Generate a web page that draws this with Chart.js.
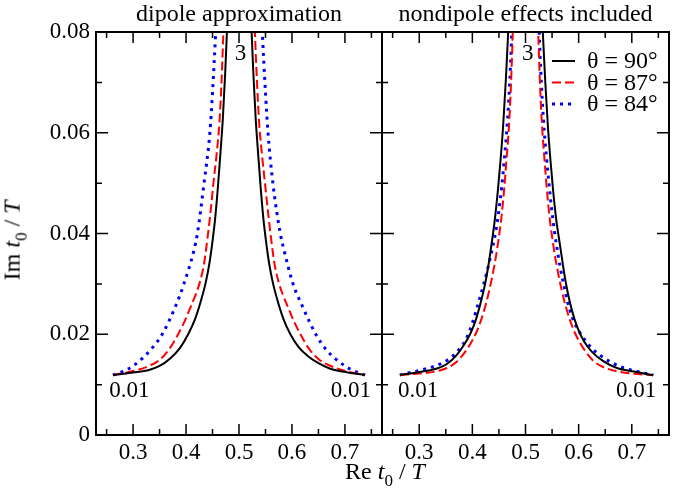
<!DOCTYPE html>
<html>
<head>
<meta charset="utf-8">
<script src="https://cdn.jsdelivr.net/npm/chart.js@4.4.1/dist/chart.umd.min.js"></script>
<style>
  body { margin: 0; background: #fff; }
  #wrap { position: relative; width: 687px; height: 491px; font-family: 'Liberation Serif', serif; color: #000; }
  canvas { position: absolute; left: 0; top: 0; }
  .axtitle { position: absolute; font-size: 24px; line-height: 24px; text-align: center; white-space: nowrap; width: 200px; }
  .axtitle sub { font-size: 17px; position: relative; top: 1px; }
  #xtitle { left: 285px; top: 459px; }
  #ytitle { left: -84px; top: 224px; transform: rotate(-90deg); }
</style>
</head>
<body>
<div id="wrap">
  <canvas id="dipole" width="687" height="491"></canvas>
  <canvas id="nondipole" width="687" height="491"></canvas>
  <div class="axtitle" id="xtitle">Re <i>t</i><sub>0</sub> / <i>T</i></div>
  <div class="axtitle" id="ytitle">Im <i>t</i><sub>0</sub> / <i>T</i></div>
</div>
<script>
const xTicks = [0.3, 0.4, 0.5, 0.6, 0.7];
const xMinorTicks = [0.25, 0.35, 0.45, 0.55, 0.65, 0.75];
const yTicks = [0, 0.02, 0.04, 0.06, 0.08];
const yTickLabels = ['0', '0.02', '0.04', '0.06', '0.08'];
const yMinorTicks = [0.01, 0.03, 0.05, 0.07];
const angleLabels = ['θ = 90°', 'θ = 87°', 'θ = 84°'];
const panelTitles = ['dipole approximation', 'nondipole effects included'];

// each curve: left branch, null, right branch
const dip90X = [0.262, 0.30, 0.33, 0.35, 0.37, 0.388, 0.404, 0.417, 0.428, 0.437, 0.444, 0.450, 0.455, 0.460, 0.465, 0.4696, 0.474, 0.478, 0.480, null,
                0.521, 0.523, 0.527, 0.5314, 0.536, 0.541, 0.546, 0.551, 0.557, 0.564, 0.573, 0.584, 0.597, 0.613, 0.631, 0.651, 0.671, 0.701, 0.738];
const dip90Y = [0.0119, 0.0124, 0.0129, 0.0137, 0.0152, 0.0172, 0.0200, 0.0230, 0.0266, 0.0302, 0.0340, 0.0385, 0.0430, 0.0490, 0.0560, 0.0630, 0.0720, 0.0820, 0.088, null,
                0.088, 0.0820, 0.0720, 0.0630, 0.0560, 0.0490, 0.0430, 0.0385, 0.0340, 0.0302, 0.0266, 0.0230, 0.0200, 0.0174, 0.0156, 0.0142, 0.0132, 0.0125, 0.0119];
const dip87X = [0.262, 0.30, 0.33, 0.35, 0.368, 0.384, 0.397, 0.409, 0.418, 0.426, 0.434, 0.441, 0.447, 0.4517, 0.457, 0.463, 0.467, 0.4705, 0.4725, null,
                0.528, 0.530, 0.534, 0.538, 0.544, 0.549, 0.554, 0.560, 0.567, 0.575, 0.583, 0.592, 0.604, 0.617, 0.633, 0.651, 0.671, 0.701, 0.738];
const dip87Y = [0.0119, 0.0127, 0.0137, 0.0149, 0.0170, 0.0198, 0.0225, 0.0255, 0.0278, 0.0303, 0.0340, 0.0395, 0.0450, 0.0500, 0.0550, 0.0620, 0.0700, 0.0800, 0.086, null,
                0.086, 0.0800, 0.0700, 0.0620, 0.0550, 0.0500, 0.0450, 0.0395, 0.0340, 0.0303, 0.0278, 0.0255, 0.0225, 0.0198, 0.0170, 0.0150, 0.0138, 0.0127, 0.0119];
const dip84X = [0.262, 0.28, 0.30, 0.333, 0.355, 0.380, 0.396, 0.415, 0.4215, 0.434, 0.445, 0.450, 0.456, 0.459, null,
                0.541, 0.544, 0.550, 0.5548, 0.564, 0.578, 0.585, 0.602, 0.620, 0.645, 0.665, 0.70, 0.72, 0.738];
const dip84Y = [0.0119, 0.0126, 0.0137, 0.0169, 0.020, 0.0255, 0.030, 0.0367, 0.040, 0.050, 0.060, 0.068, 0.080, 0.087, null,
                0.087, 0.080, 0.068, 0.060, 0.050, 0.040, 0.0367, 0.030, 0.0255, 0.020, 0.0169, 0.0137, 0.0126, 0.0119];

const non90X = [0.2636, 0.30, 0.33, 0.352, 0.37, 0.385, 0.397, 0.407, 0.415, 0.423, 0.430, 0.436, 0.442, 0.448, 0.453, 0.458, 0.463, 0.467, 0.470, null,
                0.530, 0.533, 0.537, 0.542, 0.547, 0.552, 0.5575, 0.5623, 0.567, 0.573, 0.580, 0.588, 0.597, 0.61, 0.625, 0.647, 0.672, 0.7038, 0.7403];
const non90Y = [0.0119, 0.0125, 0.0131, 0.0141, 0.0158, 0.0180, 0.0203, 0.0230, 0.0260, 0.0295, 0.0335, 0.0378, 0.0425, 0.0485, 0.0545, 0.0615, 0.0705, 0.0790, 0.087, null,
                0.087, 0.0790, 0.0705, 0.0615, 0.0545, 0.0485, 0.0430, 0.0395, 0.0362, 0.0320, 0.0280, 0.0245, 0.0215, 0.0186, 0.0165, 0.0146, 0.0133, 0.0126, 0.0119];
const non87X = [0.2636, 0.30, 0.33, 0.352, 0.37, 0.385, 0.397, 0.408, 0.417, 0.425, 0.432, 0.438, 0.444, 0.4495, 0.455, 0.460, 0.4645, 0.4687, 0.4725, 0.4755, 0.478, null,
                0.522, 0.5245, 0.5275, 0.5313, 0.5355, 0.540, 0.545, 0.5505, 0.556, 0.562, 0.568, 0.575, 0.583, 0.592, 0.603, 0.615, 0.630, 0.648, 0.67, 0.70, 0.7403];
const non87Y = [0.0119, 0.0122, 0.0126, 0.0133, 0.0145, 0.0163, 0.0182, 0.0205, 0.0230, 0.0258, 0.0288, 0.0318, 0.0352, 0.0390, 0.0435, 0.0490, 0.0550, 0.0610, 0.0690, 0.0780, 0.087, null,
                0.087, 0.0780, 0.0690, 0.0610, 0.0550, 0.0490, 0.0435, 0.0390, 0.0352, 0.0318, 0.0288, 0.0258, 0.0230, 0.0205, 0.0182, 0.0163, 0.0145, 0.0134, 0.0127, 0.0122, 0.0119];
const non84X = [0.2636, 0.28, 0.30, 0.33, 0.352, 0.372, 0.389, 0.400, 0.4113, 0.421, 0.430, 0.438, 0.445, 0.4505, 0.4555, 0.460, 0.4645, 0.4685, 0.472, 0.475, 0.477, null,
                0.523, 0.525, 0.528, 0.5315, 0.5355, 0.540, 0.5445, 0.549, 0.5538, 0.559, 0.565, 0.5715, 0.579, 0.5875, 0.597, 0.6094, 0.625, 0.642, 0.66, 0.685, 0.71, 0.7403];
const non84Y = [0.0119, 0.0123, 0.0128, 0.0137, 0.0148, 0.0166, 0.0192, 0.0222, 0.0262, 0.0298, 0.0335, 0.0372, 0.0410, 0.0450, 0.0495, 0.0545, 0.0600, 0.0665, 0.0740, 0.0820, 0.088, null,
                0.088, 0.0820, 0.0740, 0.0665, 0.0600, 0.0545, 0.0495, 0.0450, 0.0410, 0.0372, 0.0335, 0.0300, 0.0265, 0.0235, 0.0213, 0.0192, 0.0172, 0.0157, 0.0145, 0.0133, 0.0126, 0.0119];

// parameter labels written along the curves
const noteTexts = ['3', '0.01', '0.01'];
const dipNoteX = [0.503, 0.293, 0.711];
const dipNoteY = [0.0757, 0.0087, 0.0087];
const nonNoteX = [0.504, 0.298, 0.708];
const nonNoteY = [0.0757, 0.0087, 0.0087];

const FONT = "'Liberation Serif', serif";

function pts(xs, ys) {
    return xs.map((x, i) => x === null ? {x: null, y: null} : {x: x, y: ys[i]});
}

function curves(sets) {
    const styles = [
        {borderColor: '#000000', borderWidth: 2, borderDash: []},
        {borderColor: '#ff0000', borderWidth: 2, borderDash: [9, 4]},
        {borderColor: '#0000ff', borderWidth: 3, borderDash: [3, 5]}
    ];
    return sets.map((s, i) => Object.assign({
        label: angleLabels[i],
        data: pts(s[0], s[1]),
        showLine: true,
        pointRadius: 0,
        fill: false,
        spanGaps: false,
        cubicInterpolationMode: 'monotone',
        clip: 0
    }, styles[i]));
}

const panelDecor = {
    id: 'panelDecor',
    afterDraw(chart, args, opts) {
        const ctx = chart.ctx;
        const a = chart.chartArea;
        const x = chart.scales.x, y = chart.scales.y;
        ctx.save();
        ctx.strokeStyle = '#000';
        ctx.lineWidth = 1.5;
        ctx.beginPath();
        const xt = (v, len) => {
            const p = x.getPixelForValue(v);
            ctx.moveTo(p, a.bottom); ctx.lineTo(p, a.bottom - len);
            ctx.moveTo(p, a.top); ctx.lineTo(p, a.top + len);
        };
        const yt = (v, len) => {
            const p = y.getPixelForValue(v);
            ctx.moveTo(a.left, p); ctx.lineTo(a.left + len, p);
            ctx.moveTo(a.right, p); ctx.lineTo(a.right - len, p);
        };
        xTicks.forEach(v => xt(v, 11));
        xMinorTicks.forEach(v => xt(v, 6));
        yTicks.forEach(v => yt(v, 12));
        yMinorTicks.forEach(v => yt(v, 6));
        ctx.stroke();
        ctx.lineWidth = 2;
        ctx.strokeRect(a.left, a.top, a.right - a.left, a.bottom - a.top);

        ctx.fillStyle = '#000';
        ctx.textAlign = 'center';
        ctx.textBaseline = 'alphabetic';
        ctx.font = '24px ' + FONT;
        ctx.fillText(opts.title, (a.left + a.right) / 2, 21);

        ctx.textBaseline = 'middle';
        ctx.font = '23px ' + FONT;
        opts.notes.forEach((t, i) => {
            ctx.fillText(t, x.getPixelForValue(opts.noteX[i]), y.getPixelForValue(opts.noteY[i]));
        });

        if (opts.legend) {
            ctx.font = '24px ' + FONT;
            ctx.textAlign = 'left';
            chart.data.datasets.forEach((ds, i) => {
                const ly = a.top + 29 + i * 21.5;
                ctx.strokeStyle = ds.borderColor;
                ctx.lineWidth = ds.borderWidth;
                ctx.setLineDash(ds.borderDash);
                ctx.beginPath();
                ctx.moveTo(a.right - 117, ly);
                ctx.lineTo(a.right - 94, ly);
                ctx.stroke();
                ctx.setLineDash([]);
                ctx.fillText(ds.label, a.right - 82, ly + 1);
            });
        }
        ctx.restore();
    }
};

function makeChart(id, sets, padding, showY, decor) {
    return new Chart(document.getElementById(id).getContext('2d'), {
        type: 'scatter',
        data: {datasets: curves(sets)},
        options: {
            responsive: false,
            animation: false,
            layout: {padding: padding},
            plugins: {legend: {display: false}, tooltip: {enabled: false}, panelDecor: decor},
            scales: {
                x: {
                    type: 'linear', min: 0.23, max: 0.77,
                    grid: {display: false, drawTicks: false},
                    border: {display: false},
                    afterBuildTicks: s => { s.ticks = xTicks.map(v => ({value: v})); },
                    afterFit: s => { s.height = 56; },
                    ticks: {
                        padding: 4, color: '#000', maxRotation: 0, autoSkip: false,
                        font: {family: FONT, size: 23},
                        callback: v => v.toFixed(1)
                    }
                },
                y: {
                    type: 'linear', min: 0, max: 0.08, display: showY,
                    grid: {display: false, drawTicks: false},
                    border: {display: false},
                    afterBuildTicks: s => { s.ticks = yTicks.map(v => ({value: v})); },
                    afterFit: s => { s.width = showY ? 96 : 0; },
                    ticks: {
                        padding: 6, color: '#000', autoSkip: false,
                        font: {family: FONT, size: 23},
                        callback: (v, i) => yTickLabels[i]
                    }
                }
            }
        },
        plugins: [panelDecor]
    });
}

makeChart('dipole',
    [[dip90X, dip90Y], [dip87X, dip87Y], [dip84X, dip84Y]],
    {left: 0, right: 305, top: 32, bottom: 0}, true,
    {title: panelTitles[0], notes: noteTexts, noteX: dipNoteX, noteY: dipNoteY, legend: false});

makeChart('nondipole',
    [[non90X, non90Y], [non87X, non87Y], [non84X, non84Y]],
    {left: 382, right: 18, top: 32, bottom: 0}, false,
    {title: panelTitles[1], notes: noteTexts, noteX: nonNoteX, noteY: nonNoteY, legend: true});
</script>
</body>
</html>
